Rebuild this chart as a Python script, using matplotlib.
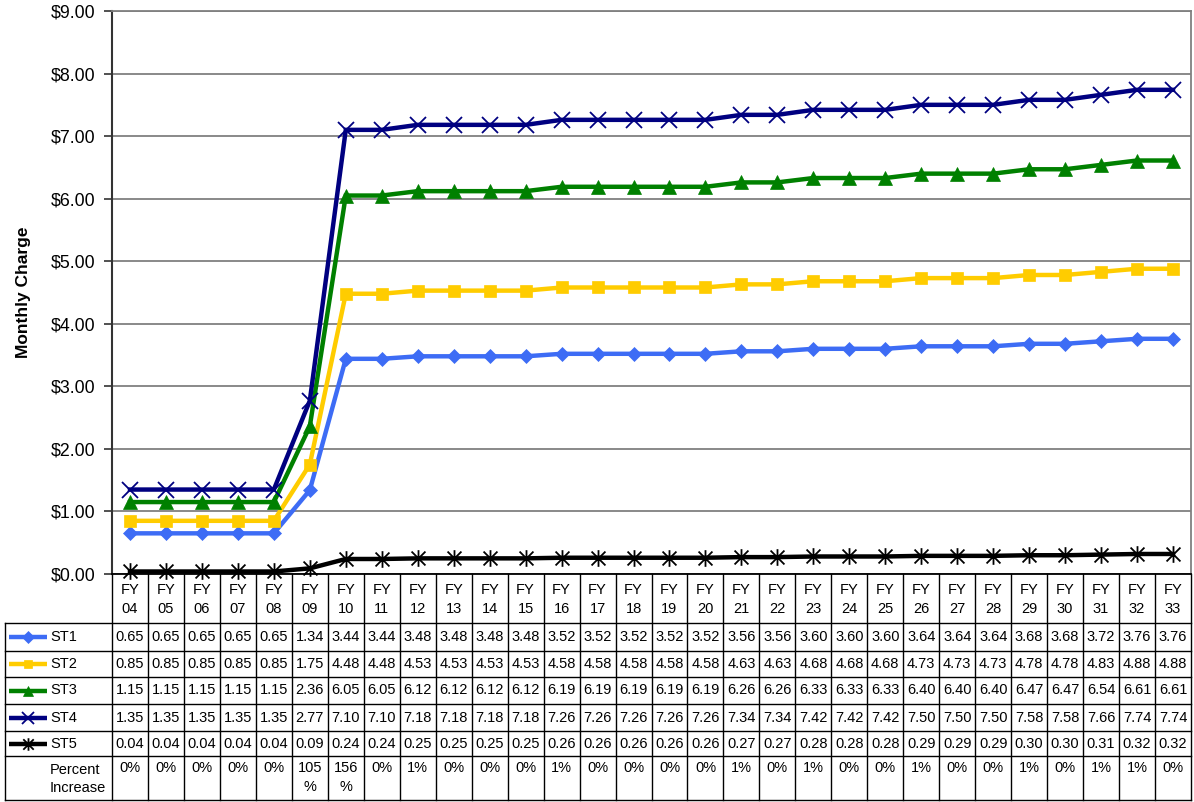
import matplotlib
matplotlib.use("Agg")
import matplotlib.pyplot as plt
from matplotlib.path import Path
import numpy as np

plt.rcParams['font.family'] = ['Liberation Sans', 'DejaVu Sans']

years = ["04", "05", "06", "07", "08", "09", "10", "11", "12", "13", "14", "15",
         "16", "17", "18", "19", "20", "21", "22", "23", "24", "25", "26", "27",
         "28", "29", "30", "31", "32", "33"]

st1 = [0.65, 0.65, 0.65, 0.65, 0.65, 1.34, 3.44, 3.44, 3.48, 3.48, 3.48, 3.48,
       3.52, 3.52, 3.52, 3.52, 3.52, 3.56, 3.56, 3.60, 3.60, 3.60, 3.64, 3.64,
       3.64, 3.68, 3.68, 3.72, 3.76, 3.76]
st2 = [0.85, 0.85, 0.85, 0.85, 0.85, 1.75, 4.48, 4.48, 4.53, 4.53, 4.53, 4.53,
       4.58, 4.58, 4.58, 4.58, 4.58, 4.63, 4.63, 4.68, 4.68, 4.68, 4.73, 4.73,
       4.73, 4.78, 4.78, 4.83, 4.88, 4.88]
st3 = [1.15, 1.15, 1.15, 1.15, 1.15, 2.36, 6.05, 6.05, 6.12, 6.12, 6.12, 6.12,
       6.19, 6.19, 6.19, 6.19, 6.19, 6.26, 6.26, 6.33, 6.33, 6.33, 6.40, 6.40,
       6.40, 6.47, 6.47, 6.54, 6.61, 6.61]
st4 = [1.35, 1.35, 1.35, 1.35, 1.35, 2.77, 7.10, 7.10, 7.18, 7.18, 7.18, 7.18,
       7.26, 7.26, 7.26, 7.26, 7.26, 7.34, 7.34, 7.42, 7.42, 7.42, 7.50, 7.50,
       7.50, 7.58, 7.58, 7.66, 7.74, 7.74]
st5 = [0.04, 0.04, 0.04, 0.04, 0.04, 0.09, 0.24, 0.24, 0.25, 0.25, 0.25, 0.25,
       0.26, 0.26, 0.26, 0.26, 0.26, 0.27, 0.27, 0.28, 0.28, 0.28, 0.29, 0.29,
       0.29, 0.30, 0.30, 0.31, 0.32, 0.32]
pct_increase = ["0%", "0%", "0%", "0%", "0%", "105\n%", "156\n%", "0%", "1%", "0%",
                "0%", "0%", "1%", "0%", "0%", "0%", "0%", "1%", "0%", "1%",
                "0%", "0%", "1%", "0%", "0%", "1%", "0%", "1%", "1%", "0%"]

series_names = ["ST1", "ST2", "ST3", "ST4", "ST5"]
series_values = [st1, st2, st3, st4, st5]

# asterisk marker: an x crossed by a vertical bar
star_path = Path(
    [(-0.5, -0.5), (0.5, 0.5), (-0.5, 0.5), (0.5, -0.5), (0, -0.6), (0, 0.6)],
    [Path.MOVETO, Path.LINETO, Path.MOVETO, Path.LINETO, Path.MOVETO, Path.LINETO])

styles = [
    dict(color="#3D6CF5", marker="D", ms=7.5, mew=0.5),
    dict(color="#FFCC00", marker="s", ms=8.5, mew=0.5),
    dict(color="#008000", marker="^", ms=9.5, mew=0.5),
    dict(color="#000080", marker="x", ms=11, mew=1.3),
    dict(color="#000000", marker=star_path, ms=12, mew=1.3),
]

W, H = 1194, 802
fig = plt.figure(figsize=(W / 100, H / 100), dpi=100)

px_left, px_right, px_top, px_bottom = 112, 1191, 11, 574
ax = fig.add_axes([px_left / W, 1 - px_bottom / H,
                   (px_right - px_left) / W, (px_bottom - px_top) / H])

n = len(years)
x = np.arange(n)
for vals, st in zip(series_values, styles):
    ax.plot(x, vals, color=st["color"], lw=3.2, marker=st["marker"],
            ms=st["ms"], mew=st["mew"], mec=st["color"], mfc=st["color"],
            solid_joinstyle="miter", zorder=3, clip_on=False)

ax.set_xlim(-0.5, n - 0.5)
ax.set_ylim(0, 9)
ax.set_yticks(np.arange(0, 10, 1))
ax.set_yticklabels([f"${v:.2f}" for v in range(10)], fontsize=12.8)
ax.set_xticks([])
ax.yaxis.grid(True, color="#808080", lw=1.3)
ax.set_axisbelow(True)
ax.tick_params(axis="y", length=6, width=1.2, color="#333333", pad=6)
for side in ["top", "right"]:
    ax.spines[side].set_color("#808080")
    ax.spines[side].set_linewidth(1.3)
ax.spines["left"].set_color("#333333")
ax.spines["left"].set_linewidth(1.5)
ax.spines["bottom"].set_color("#000000")
ax.spines["bottom"].set_linewidth(1.3)
ax.set_ylabel("Monthly Charge", fontsize=12.5, fontweight="bold", labelpad=14)

# data table beneath the plot, positioned in category units on x
cell = (px_right - px_left) / n
tbl_left_px, tbl_bottom_px = 5, 800
x_lo = -0.5 - (px_left - tbl_left_px) / cell
tax = fig.add_axes([tbl_left_px / W, 1 - tbl_bottom_px / H,
                    (px_right - tbl_left_px) / W, (tbl_bottom_px - px_bottom) / H])
tax.set_xlim(x_lo, n - 0.5)
tax.set_ylim(tbl_bottom_px, px_bottom)
tax.axis("off")


def px2x(p):
    return -0.5 + (p - px_left) / cell


row_edges = [574, 623, 651, 677, 704, 731, 756, 800]
line_kw = dict(color="#000000", lw=1.0, clip_on=False)

for i in range(n + 1):
    tax.plot([i - 0.5, i - 0.5], [row_edges[0], row_edges[-1]], **line_kw)
tax.plot([x_lo, x_lo], [row_edges[1], row_edges[-1]], **line_kw)
for y in row_edges[1:]:
    tax.plot([x_lo, n - 0.5], [y, y], **line_kw)

fs = 10.5
for i, yr in enumerate(years):
    tax.text(i, (row_edges[0] + row_edges[1]) / 2 + 1, f"FY\n{yr}", ha="center",
             va="center", fontsize=fs, linespacing=1.45)

for r, (name, vals, st) in enumerate(zip(series_names, series_values, styles)):
    yc = (row_edges[r + 1] + row_edges[r + 2]) / 2
    for i, v in enumerate(vals):
        tax.text(i, yc, f"{v:.2f}", ha="center", va="center", fontsize=fs)
    tax.plot([px2x(9), px2x(47)], [yc, yc], color=st["color"], lw=3.2,
             solid_capstyle="butt", clip_on=False)
    tax.plot([px2x(28)], [yc], marker=st["marker"], ms=st["ms"] * 0.75,
             mew=st["mew"], color=st["color"], clip_on=False)
    tax.text(px2x(50), yc, name, ha="left", va="center", fontsize=fs)

for i, p in enumerate(pct_increase):
    tax.text(i, row_edges[6] + 5, p, ha="center", va="top", fontsize=fs,
             linespacing=1.45)
tax.text(px2x(50), (row_edges[6] + row_edges[7]) / 2 + 1, "Percent\nIncrease",
         ha="left", va="center", fontsize=fs, linespacing=1.45)

fig.savefig("out.png", dpi=100)
